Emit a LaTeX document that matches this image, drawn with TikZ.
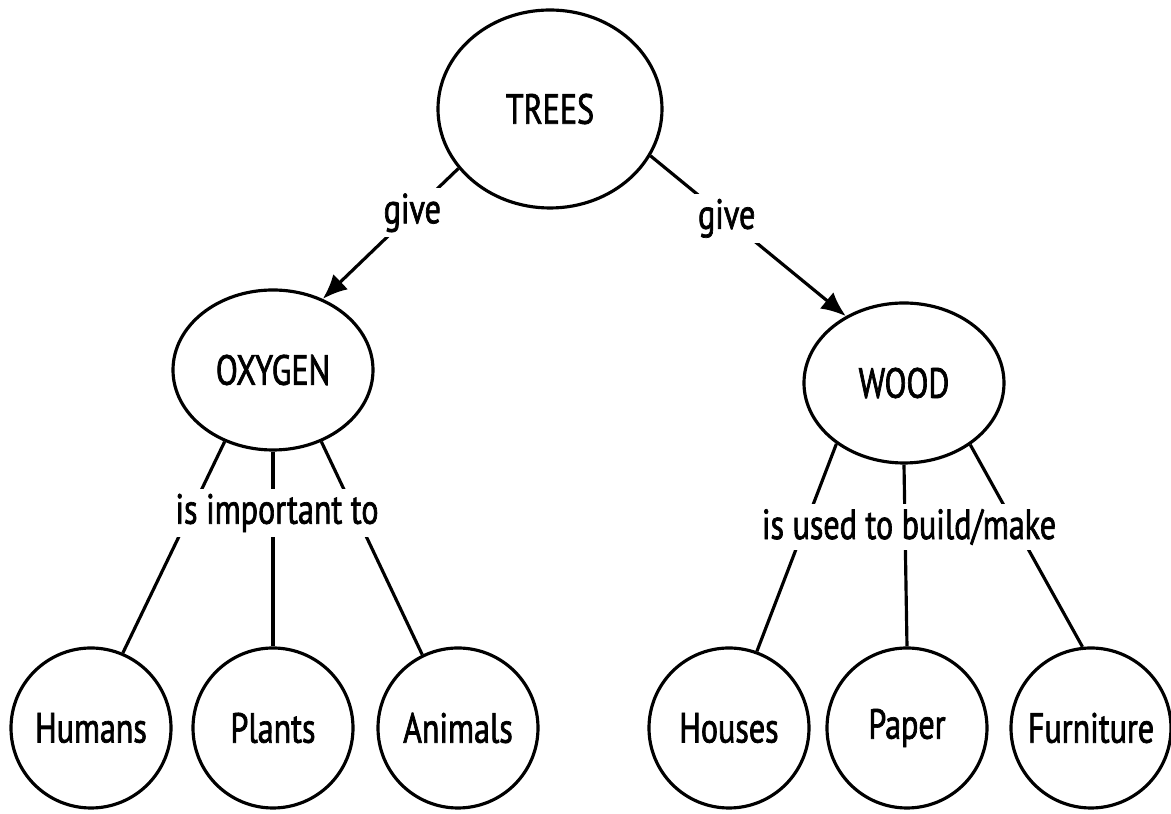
\documentclass[tikz,border=0pt]{standalone}
\usepackage{fontspec}
\setmainfont{PT Sans}[FakeStretch=0.76, FakeBold=1.6]
\usepackage{tikz}
\usetikzlibrary{positioning}
\usetikzlibrary{shapes.geometric}
\usetikzlibrary{arrows.meta}

\tikzset{
  concept/.style={draw, ellipse, line width=.9pt, inner sep=0pt,
    font=\fontsize{12}{14}\selectfont},
  leaf/.style={draw, circle, line width=.9pt, inner sep=0pt,
    minimum size=1.6cm, font=\fontsize{12}{14}\selectfont},
  link/.style={line width=.9pt},
  linkarrow/.style={link, -{Latex[length=7pt,width=6pt]}},
  linklabel/.style={fill=white, inner sep=1.5pt,
    font=\fontsize{12}{14}\selectfont}
}

\begin{document}
\begin{tikzpicture}
  \useasboundingbox (0,0) rectangle (11.71,8.14);

  % top concept
  \node[concept, minimum width=2.24cm, minimum height=1.98cm] (trees) at (5.50,7.05) {TREES};

  % second level
  \node[concept, minimum width=2cm, minimum height=1.6cm] (oxygen) at (2.73,4.44) {OXYGEN};
  \node[concept, minimum width=2cm, minimum height=1.6cm] (wood) at (9.04,4.31) {WOOD};

  % leaves
  \node[leaf] (humans) at (0.91,0.86) {Humans};
  \node[leaf] (plants) at (2.73,0.86) {Plants};
  \node[leaf] (animals) at (4.58,0.86) {Animals};
  \node[leaf] (houses) at (7.29,0.86) {Houses};
  \node[leaf] (paper) at (9.07,0.86) {Paper};
  \node[leaf] (furniture) at (10.91,0.86) {Furniture};

  % links
  \draw[linkarrow] (trees.213) -- node[linklabel, pos=.34] {give} (oxygen.55);
  \draw[linkarrow] (trees.335) -- node[linklabel, pos=.39] {give} (wood.131);

  \draw[link] (oxygen.236) -- (humans.67);
  \draw[link] (oxygen.south) -- (plants.north);
  \draw[link] (oxygen.304) -- (animals.116);

  \draw[link] (wood.222) -- (houses.70);
  \draw[link] (wood.south) -- (paper.north);
  \draw[link] (wood.317) -- (furniture.96);

  % link words
  \node[linklabel] (important) at (2.77,3.01) {is important to};
  \node[linklabel] (used) at (9.09,2.87) {is used to build/make};
\end{tikzpicture}
\end{document}
